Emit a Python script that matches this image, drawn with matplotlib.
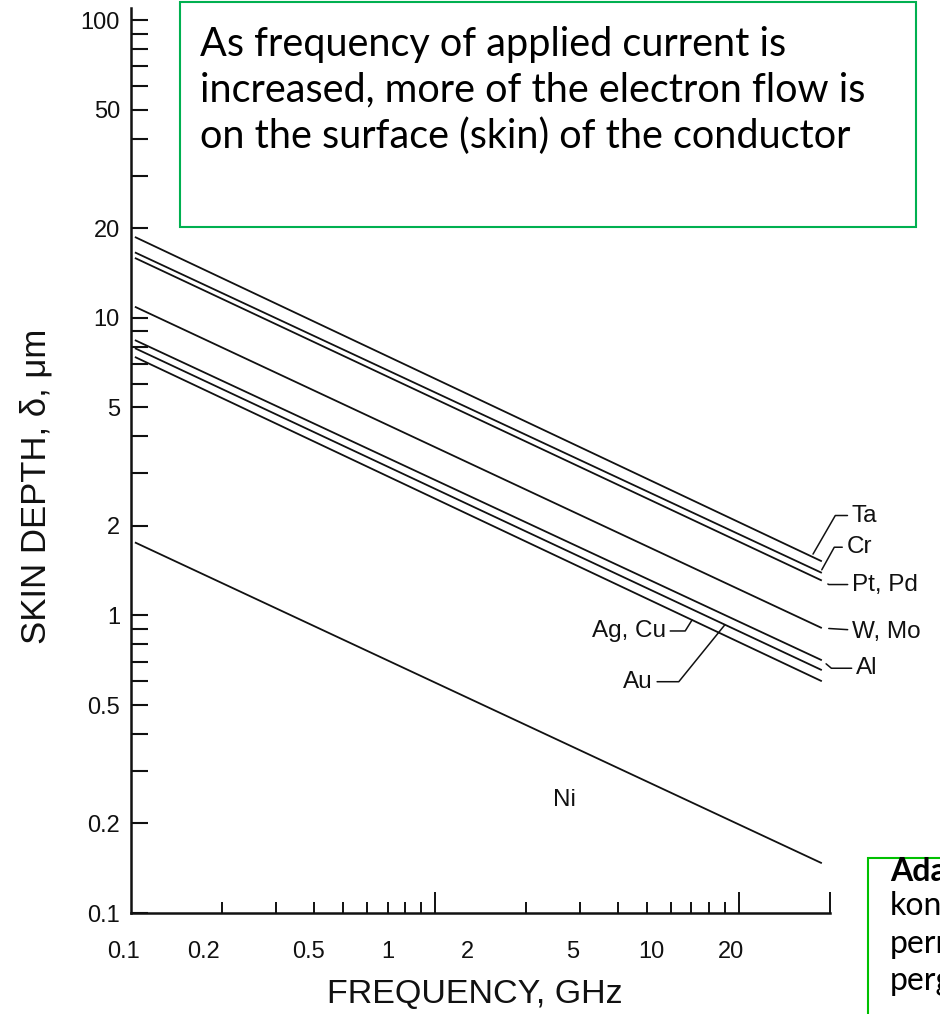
import matplotlib
matplotlib.use("Agg")
import matplotlib.pyplot as plt
from matplotlib.ticker import LogLocator, NullFormatter, FixedLocator, FixedFormatter
from matplotlib.patches import Rectangle
import numpy as np

# values (skin depth in um at both ends of each line)
materials = ["Ta", "Cr", "Pt, Pd", "W, Mo", "Al", "Au", "Ag, Cu", "Ni"]
freq_ends = [0.103, 18.8]                      # GHz
depth_start = [18.7, 16.6, 15.9, 10.9, 8.42, 7.91, 7.39, 1.76]
depth_end = [1.52, 1.39, 1.31, 0.907, 0.707, 0.655, 0.601, 0.147]

y_ticks = [0.1, 0.2, 0.5, 1, 2, 5, 10, 20, 50, 100]
y_ticklabels = ["0.1", "0.2", "0.5", "1", "2", "5", "10", "20", "50", "100"]
x_ticks = [0.1, 0.2, 0.5, 1, 2, 5, 10, 20]
x_ticklabels = ["0.1", "0.2", "0.5", "1", "2", "5", "10", "20"]

# label placement: material -> (freq where leader touches, offset px, ha, connection, shrink)
label_style = {
    "Ta":     (17.4, (40, 41), "left", "angle,angleA=0,angleB=60,rad=0", 2),
    "Cr":     (18.6, (26, 25), "left", "angle,angleA=0,angleB=61,rad=0", 2),
    "Pt, Pd": (18.8, (30, -4), "left", "angle,angleA=0,angleB=-30,rad=0", 5),
    "W, Mo":  (18.8, (30, -4), "left", "arc3", 5),
    "Al":     (18.8, (34, -8), "left", "angle,angleA=0,angleB=-40,rad=0", 4),
    "Au":     (9.02, (-72, -57), "right", "angle,angleA=0,angleB=51,rad=0", 0),
    "Ag, Cu": (7.03, (-26, -11), "right", "angle,angleA=0,angleB=58,rad=0", 0),
}
ni_offset = (0, -57)

W, H = 940, 1014
INK = "#111111"
fig = plt.figure(figsize=(W / 100, H / 100), dpi=100)
fig.patch.set_facecolor("white")

tick_font = ["Liberation Sans", "DejaVu Sans"]

# main axes (pixel box 131..830 x 8..913)
ax = fig.add_axes([131 / W, 1 - 913 / H, 699 / W, 905 / H])
ax.set_xscale("log")
ax.set_yscale("log")
ax.set_xlim(0.1, 20)
ax.set_ylim(0.1, 110)
ax.patch.set_alpha(0)

for s in ["top", "right"]:
    ax.spines[s].set_visible(False)
for s in ["left", "bottom"]:
    ax.spines[s].set_linewidth(1.8)
    ax.spines[s].set_color(INK)

for i, m in enumerate(materials):
    ax.plot(freq_ends, [depth_start[i], depth_end[i]], color=INK, lw=1.3,
            solid_capstyle="butt")

def depth_at(i, f):
    lf = np.log10(freq_ends)
    ld = np.log10([depth_start[i], depth_end[i]])
    return 10 ** np.interp(np.log10(f), lf, ld)

for i, m in enumerate(materials):
    if m == "Ni":
        f = 2.68
        ax.annotate(m, xy=(f, depth_at(i, f)), xytext=ni_offset, textcoords="offset pixels",
                    ha="center", va="center", fontsize=17.5, family=tick_font, color=INK)
        continue
    f, off, ha, conn, shrink = label_style[m]
    ax.annotate(m, xy=(f, depth_at(i, f)), xytext=off, textcoords="offset pixels",
                ha=ha, va="center", fontsize=17.5, family=tick_font, color=INK,
                annotation_clip=False,
                arrowprops=dict(arrowstyle="-", color=INK, lw=1.1,
                                connectionstyle=conn, shrinkA=1, shrinkB=shrink))

# y ticks: every log subdivision, same length, labels on 1-2-5
ax.yaxis.set_major_locator(FixedLocator(y_ticks))
ax.yaxis.set_major_formatter(FixedFormatter(y_ticklabels))
ax.yaxis.set_minor_locator(LogLocator(base=10, subs=(3, 4, 6, 7, 8, 9)))
ax.yaxis.set_minor_formatter(NullFormatter())
ax.tick_params(axis="y", which="both", direction="in", length=12, width=1.5,
               pad=8, labelsize=17, color=INK, labelcolor=INK)
for t in ax.get_yticklabels():
    t.set_family(tick_font)

# x ticks: decade ticks tall, subdivisions short, no labels here
ax.xaxis.set_major_locator(FixedLocator([1, 10, 20]))
ax.xaxis.set_major_formatter(NullFormatter())
ax.xaxis.set_minor_locator(LogLocator(base=10, subs=(2, 3, 4, 5, 6, 7, 8, 9)))
ax.xaxis.set_minor_formatter(NullFormatter())
ax.tick_params(axis="x", which="major", direction="in", length=15, width=1.4, color=INK)
ax.tick_params(axis="x", which="minor", direction="in", length=8, width=1.4, color=INK)

ax.set_ylabel("SKIN DEPTH, \u03b4, \u03bcm", fontsize=25, family=tick_font, color=INK)
ax.yaxis.set_label_coords(-0.113, 0.471)
ax.set_xlabel("FREQUENCY, GHz", fontsize=24.5, family=tick_font, color=INK)
ax.xaxis.set_label_coords(0.492, -0.073)

# frequency labels as printed on the chart (their own log scale)
ax2 = fig.add_axes([124 / W, 1 - 913 / H, 706 / W, 905 / H])
ax2.set_xscale("log")
ax2.set_xlim(0.1, 47.4)
ax2.patch.set_alpha(0)
for s in ax2.spines.values():
    s.set_visible(False)
ax2.set_yticks([])
ax2.xaxis.set_major_locator(FixedLocator(x_ticks))
ax2.xaxis.set_major_formatter(FixedFormatter(x_ticklabels))
ax2.xaxis.set_minor_locator(FixedLocator([]))
ax2.tick_params(axis="x", length=0, pad=20, labelsize=17, labelcolor=INK)
for t in ax2.get_xticklabels():
    t.set_family(tick_font)

# text boxes
box_font = ["Lato", "DejaVu Sans"]
fig.add_artist(Rectangle((180 / W, 1 - 227 / H), 736 / W, 225 / H, transform=fig.transFigure,
                         facecolor="white", edgecolor="#00B050", lw=1.5, zorder=5))
fig.text(200 / W, 1 - 26 / H,
         "As frequency of applied current is\nincreased, more of the electron flow is\n"
         "on the surface (skin) of the conductor",
         ha="left", va="top", fontsize=28.5, family=box_font, linespacing=1.28,
         color="black", zorder=6)

fig.add_artist(Rectangle((868 / W, 1 - 1030 / H), 120 / W, 172 / H, transform=fig.transFigure,
                         facecolor="white", edgecolor="#00C000", lw=1.5, zorder=5))
fig.text(890 / W, 1 - 872 / H, "Adanya efek kulit", ha="left", va="center", fontsize=23,
         family=box_font, weight="bold", color="black", zorder=6)
fig.text(890 / W, 1 - 891 / H, "konduktor\npermukaan\npergerakan", ha="left", va="top",
         fontsize=23, family=box_font, linespacing=1.32, color="black", zorder=6)

fig.savefig("out.png", dpi=100)
